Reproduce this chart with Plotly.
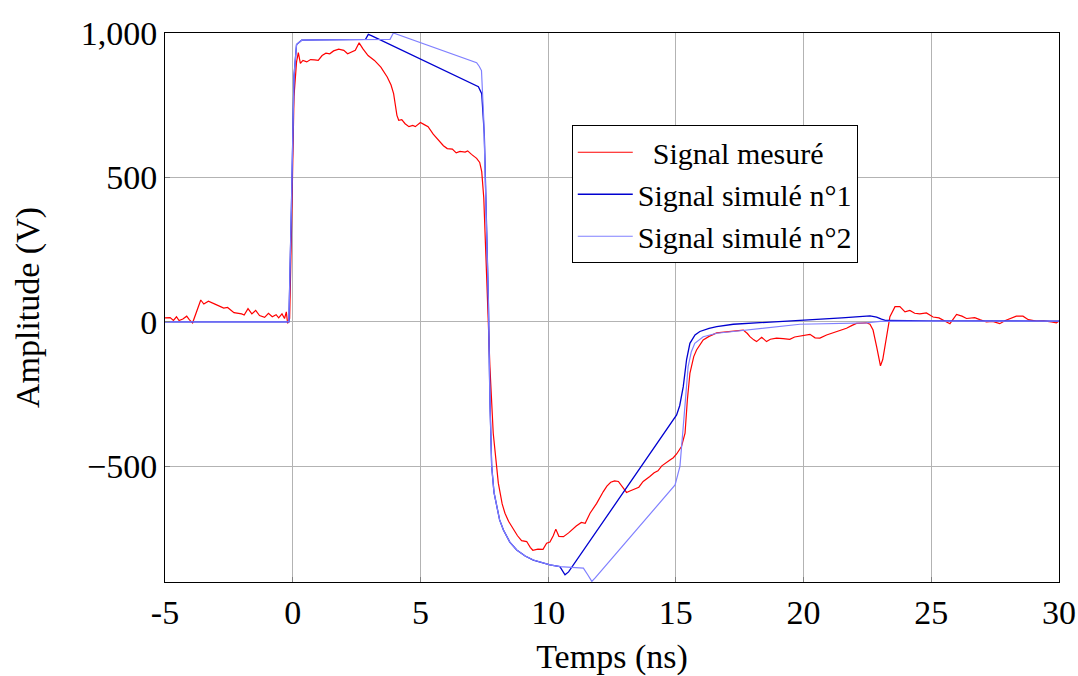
import plotly.graph_objects as go

# ---- data (time in ns, amplitude in V) ----
t_mes = [-5.0, -4.8, -4.67, -4.55, -4.45, -4.3, -4.15, -4.05, -3.92, -3.75, -3.6, -3.48, -3.3, -3.0, -2.7,
         -2.55, -2.3, -2.0, -1.9, -1.75, -1.6, -1.45, -1.3, -1.1, -0.95, -0.8, -0.65, -0.55, -0.42, -0.32,
         -0.25, -0.2, -0.12, -0.04, 0.05, 0.15, 0.22, 0.3, 0.4, 0.55, 0.7, 0.85, 1.0, 1.15, 1.3, 1.45, 1.6,
         1.8, 2.0, 2.15, 2.3, 2.45, 2.6, 2.75, 2.95, 3.2, 3.45, 3.7, 3.85, 3.95, 4.08, 4.15, 4.27, 4.4, 4.55,
         4.7, 4.8, 5.0, 5.15, 5.3, 5.5, 5.7, 5.9, 6.05, 6.25, 6.4, 6.55, 6.75, 6.85, 7.0, 7.2, 7.32, 7.4,
         7.48, 7.58, 7.72, 7.85, 8.05, 8.2, 8.31, 8.45, 8.64, 8.8, 8.96, 9.16, 9.3, 9.4, 9.6, 9.8, 9.94,
         10.07, 10.2, 10.3, 10.42, 10.6, 10.8, 10.95, 11.1, 11.3, 11.45, 11.64, 11.9, 12.16, 12.3, 12.45,
         12.6, 12.75, 12.88, 13.07, 13.2, 13.4, 13.55, 13.72, 13.85, 13.98, 14.15, 14.3, 14.45, 14.6, 14.77,
         14.9, 15.03, 15.22, 15.36, 15.45, 15.55, 15.7, 15.81, 16.07, 16.3, 16.6, 16.9, 17.25, 17.5, 17.64,
         17.8, 17.9, 18.05, 18.16, 18.36, 18.55, 18.7, 18.94, 19.2, 19.46, 19.65, 19.86, 20.05, 20.25, 20.45,
         20.64, 20.9, 21.16, 21.4, 21.68, 21.9, 22.07, 22.3, 22.46, 22.6, 22.72, 22.86, 23.01, 23.1, 23.18,
         23.38, 23.58, 23.77, 23.97, 24.16, 24.35, 24.55, 24.81, 25.07, 25.3, 25.6, 25.73, 25.99, 26.2,
         26.38, 26.7, 26.9, 27.16, 27.4, 27.68, 27.9, 28.07, 28.33, 28.59, 28.8, 29.11, 29.4, 29.7, 29.9, 30.0]
v_mes = [14, 15, 5, 18, 5, 10, 20, 8, -3, 40, 76, 62, 72, 60, 48,
         50, 32, 28, 24, 46, 28, 40, 22, 16, 30, 18, 25, 14, 28, 12,
         35, -5, 12, 350, 780, 900, 932, 895, 905, 900, 908, 907, 905, 922, 930, 928, 938,
         944, 940, 928, 935, 940, 966, 945, 922, 905, 882, 848, 820, 790, 715, 698, 700, 686, 676,
         680, 676, 690, 683, 676, 650, 628, 610, 600, 598, 585, 590, 588, 592, 580, 566, 552, 520,
         430, 180, -155, -385, -558, -630, -662, -690, -720, -740, -757, -760, -780, -790, -786, -787, -766,
         -762, -740, -717, -742, -743, -730, -718, -706, -694, -697, -662, -628, -587, -568, -555,
         -550, -552, -569, -590, -585, -578, -572, -552, -545, -535, -522, -515, -498, -490, -478,
         -470, -457, -431, -385, -270, -178, -120, -97, -62, -50, -38, -35, -33, -30, -28,
         -40, -51, -62, -68, -53, -68, -60, -56, -58, -60, -52, -49, -48, -43, -55,
         -56, -45, -37, -32, -22, -12, -5, -4, -3, -8, -28, -85, -152, -130, -85,
         18, 53, 53, 35, 40, 30, 28, 31, 17, 14, 0, -6, 26, 20,
         12, 15, 8, 0, 2, -6, 5, 12, 20, 20, 8, 3, 4, 0, -3, 3]

t_sim1 = [-5.0, -0.15, -0.05, 0.05, 0.15, 0.35, 1.0, 2.0, 2.85, 2.96, 3.1, 7.27, 7.4, 7.5, 7.6, 7.66, 7.72,
          7.79, 7.88, 7.98, 8.1, 8.25, 8.5, 8.77, 9.1, 9.42, 9.75, 10.07, 10.46, 10.55, 10.66, 10.8, 15.03,
          15.15, 15.29, 15.42, 15.55, 15.75, 15.94, 16.3, 16.6, 17.25, 17.9, 19.86, 21.5, 22.6, 22.75,
          22.86, 23.05, 23.23, 25.0, 30.0]
v_sim1 = [0, 0, 400, 850, 960, 975, 976, 977, 978, 995, 990, 814, 790, 650, 300, 76, -270,
          -500, -590, -639, -685, -720, -762, -789, -810, -824, -834, -841, -847, -860, -875, -865, -322,
          -290, -224, -130, -74, -45, -33, -22, -16, -8, -5, 5, 14, 21, 20,
          17, 10, 5, 4, 3]

t_sim2 = [-5.0, -0.15, -0.05, 0.05, 0.15, 0.35, 1.0, 2.0, 3.0, 3.81, 3.94, 7.2, 7.3, 7.39, 7.48, 7.58, 7.66,
          7.72, 7.79, 7.88, 7.98, 8.1, 8.25, 8.5, 8.77, 9.1, 9.42, 9.75, 10.07, 10.46, 11.38, 11.55, 11.71,
          11.85, 14.97, 15.1, 15.16, 15.29, 15.38, 15.48, 15.6, 15.74, 16.07, 16.33, 16.6, 17.25, 18.5,
          19.86, 22.46, 23.0, 25.0, 30.0]
v_sim2 = [0, 0, 400, 850, 960, 975, 976, 977, 978, 978, 1000, 897, 885, 870, 700, 350, 76,
          -270, -500, -590, -639, -685, -720, -762, -789, -810, -824, -834, -841, -847, -852, -875, -898,
          -885, -564, -520, -500, -362, -250, -155, -105, -74, -51, -45, -39, -33, -20,
          -8, -3, 2, 3, 3]

x_ticks = [-5, 0, 5, 10, 15, 20, 25, 30]
x_ticktext = ["-5", "0", "5", "10", "15", "20", "25", "30"]
y_ticks = [-500, 0, 500, 1000]
y_ticktext = ["\u2212500", "0", "500", "1,000"]

FONT = "Liberation Serif"

fig = go.Figure()
fig.add_trace(go.Scatter(x=t_mes, y=v_mes, mode="lines", name="  Signal mesuré",
                         line=dict(color="#ff0000", width=1.2)))
fig.add_trace(go.Scatter(x=t_sim1, y=v_sim1, mode="lines", name="Signal simulé n°1",
                         line=dict(color="#0000d0", width=1.3)))
fig.add_trace(go.Scatter(x=t_sim2, y=v_sim2, mode="lines", name="Signal simulé n°2",
                         line=dict(color="#8080ff", width=1.2)))

fig.update_layout(
    width=1078, height=676,
    margin=dict(l=165, r=19, t=33, b=94),
    paper_bgcolor="white", plot_bgcolor="white",
    font=dict(family=FONT, size=34, color="black"),
    showlegend=True,
    legend=dict(x=0.455, y=0.832, xanchor="left", yanchor="top",
                bgcolor="white", bordercolor="black", borderwidth=1,
                font=dict(family=FONT, size=30), tracegroupgap=0, itemwidth=55),
)
fig.update_xaxes(
    range=[-5, 30], tickvals=x_ticks, ticktext=x_ticktext,
    showgrid=True, gridcolor="#b3b3b3", gridwidth=1,
    showline=True, linecolor="black", linewidth=1, mirror=True,
    ticks="inside", ticklen=5, tickcolor="#808080",
    zeroline=False, automargin=False,
    title=dict(text="Temps (ns)", font=dict(family=FONT, size=34), standoff=14),
)
fig.update_yaxes(
    range=[-900, 1000], tickvals=y_ticks, ticktext=y_ticktext,
    showgrid=True, gridcolor="#b3b3b3", gridwidth=1,
    showline=True, linecolor="black", linewidth=1, mirror=True,
    ticks="inside", ticklen=5, tickcolor="#808080",
    zeroline=False, automargin=False,
    title=dict(text="Amplitude (V)", font=dict(family=FONT, size=34), standoff=30),
)

fig.write_html("out.html", config={"displayModeBar": False},
               post_script="document.body.style.margin='0';document.body.style.padding='0';")
